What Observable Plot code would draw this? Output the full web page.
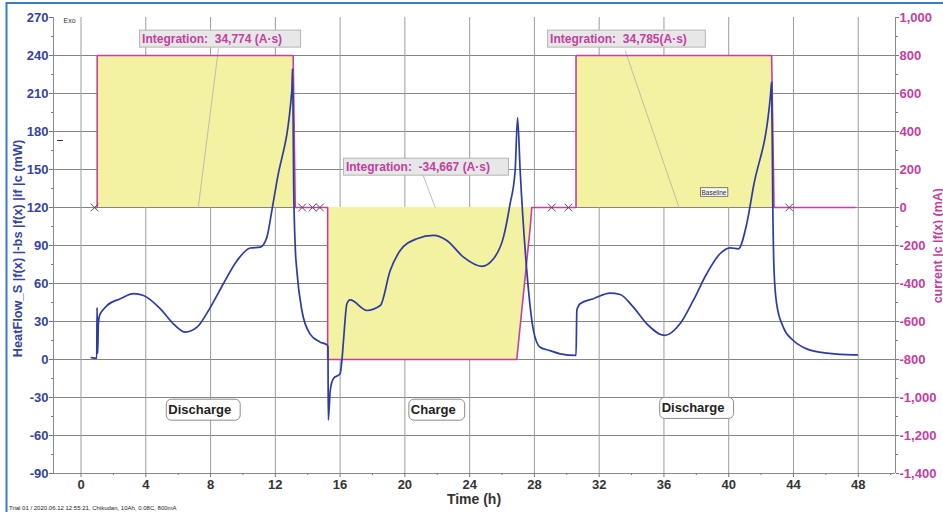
<!DOCTYPE html>
<html><head><meta charset="utf-8">
<script src="https://cdn.jsdelivr.net/npm/d3@7"></script>
<script src="https://cdn.jsdelivr.net/npm/@observablehq/plot@0.6"></script>
<style>
html,body{margin:0;padding:0;background:#fff;}
#chart{position:relative;width:943px;height:512px;overflow:hidden;background:#fff;}
svg{display:block;}
</style></head><body><div id="chart"></div>
<script>
// ---- data ----
const hfTime = [0.64,0.97,0.99,1.01,1.03,1.07,1.15,1.35,1.6,2.43,3.25,3.86,4.9,5.72,6.44,7.16,7.98,8.8,9.63,10.45,11.07,11.48,11.79,12.1,13.02,13.06,13.1,13.13,13.23,13.33,13.64,14.15,14.77,15.19,15.25,
  15.27,15.39,15.59,16.0,16.11,16.21,16.42,16.62,17.65,18.48,19.09,19.71,20.74,21.77,22.59,23.62,24.75,25.47,26.09,26.5,26.81,26.96,27.12,27.53,27.94,28.35,28.97,29.59,30.57,
  30.62,30.82,31.64,32.67,33.29,34.11,34.94,36.05,36.99,37.81,38.64,39.46,40.08,40.59,41.11,41.52,42.59,42.65,42.72,42.8,42.96,43.37,43.99,44.81,46.05,47.69,47.94];
const hfValue = [1.5,1,41,20,5,28,35,39,42.6,48,52,50.5,40,28,21.6,25.5,41,60,78,88,88.7,96.6,118,141,212.5,229.6,190,140,88.7,70,38.7,20,13.7,11.5,10,
  -47.7,-24.5,-15,-11.3,-0.8,15,44,47,38.7,42.6,70,86,95.3,98,94,80.8,73.5,79.5,96.6,123,149,191,149,70,23,9.7,7,4.5,3.2,
  38.7,44,48,52.4,51.3,41.3,28.2,19,28.2,46.6,67.7,83.5,88.2,87.4,107,136,210,219,123,70,44,25.5,15,8.4,5,3.7,3.7];

const curTime  = [0.84,1.0,1.0,13.1,13.23,15.23,15.23,26.91,27.74,27.84,30.57,30.57,42.65,42.8,47.8];
const curValue = [0,0,800,800,0,0,-800,-800,-105,0,0,800,800,0,0];

const integStart = [1.0, 15.23, 30.57];
const integEnd   = [13.23, 27.84, 42.8];

const markTime = [0.84, 13.66, 14.3, 14.75, 29.07, 30.1, 43.74];

const integLabels = ["Integration:\u00a0 34,774 (A·s)", "Integration:\u00a0 -34,667 (A·s)", "Integration:\u00a0 34,785(A·s)"];
const integX = [3.77, 16.36, 28.97];
const integY = [253.2, 152.1, 253.2];
const leaderX1 = [8.49, 21.13, 33.6];
const leaderY1 = [245.6, 145.3, 244];
const leaderX2 = [7.24, 21.87, 36.93];
const leaderY2 = [120, 120, 120];

const phaseLabels = ["Discharge", "Charge", "Discharge"];
const phaseX = [5.39, 20.37, 35.86];
const phaseY = [-39.9, -39.9, -38.5];

const baselineLabel = ["Baseline"];
const baselineX = [39.09];
const baselineY = [131.9];

const xTicks = d3.range(0, 49, 4);
const xMinor = d3.range(2, 51, 4);
const yTicks = d3.range(-90, 271, 30);
const yMinor = d3.range(-75, 270, 30);
const yGrid = d3.range(-60, 241, 30);
const xDomain = [-1.7, 50.3];
const yDomain = [-90, 270];

// ---- helpers ----
const conv = mA => 120 + 0.15 * mA;  // right axis (mA) -> left axis (mW) scale
const hf = hfTime.map((t, i) => ({t, v: hfValue[i]}));
const cur = curTime.map((t, i) => ({t, mA: curValue[i]}));
const fillRows = [];
integStart.forEach((s, k) => cur.forEach(d => { if (d.t >= s && d.t <= integEnd[k]) fillRows.push({...d, seg: k}); }));
const leaders = leaderX1.map((x, i) => ({x1: x, y1: leaderY1[i], x2: leaderX2[i], y2: leaderY2[i]}));

const BLUE = "#2d3ca2", BLUELAB = "#3443a0", MAG = "#c2409f", GRIDH = "#858585", GRIDV = "#9c9c9c";
const FONT = "Liberation Sans, Arial, Helvetica, sans-serif";

const svg = Plot.plot({
  width: 943, height: 512,
  marginTop: 17, marginBottom: 39, marginLeft: 53, marginRight: 48,
  x: {domain: xDomain},
  y: {domain: yDomain},
  style: {fontFamily: FONT, background: "#fff", overflow: "visible"},
  marks: [
    Plot.ruleY(yGrid, {stroke: GRIDH, strokeWidth: 1}),
    Plot.ruleX(xTicks, {stroke: GRIDV, strokeWidth: 1}),
    Plot.areaY(fillRows, {x: "t", y1: d => conv(0), y2: d => conv(d.mA), z: "seg", fill: "#f3f1a2"}),
    Plot.link(leaders, {x1: "x1", y1: "y1", x2: "x2", y2: "y2", stroke: "#b0b0b0", strokeWidth: 0.8}),
    Plot.ruleX([xDomain[0], xDomain[1]], {stroke: "#8a8a8a"}),
    Plot.ruleY([yDomain[0]], {stroke: "#8a8a8a"}),
    Plot.axisY({ticks: yTicks, tickSize: 4, tickPadding: 1, stroke: "#777", fill: BLUELAB, fontSize: 13, fontWeight: "bold", tickFormat: d => String(d), label: null}),
    Plot.axisY({ticks: yMinor, tickSize: 2, stroke: "#777", tickFormat: () => "", label: null}),
    Plot.axisY({anchor: "right", ticks: yTicks, tickSize: 3, tickPadding: 1, stroke: "#777", fill: MAG, fontSize: 13, fontWeight: "bold",
      tickFormat: d => Math.round((d - 120) / 0.15).toLocaleString("en-US"), label: null}),
    Plot.axisY({anchor: "right", ticks: yMinor, tickSize: 2, stroke: "#777", tickFormat: () => "", label: null}),
    Plot.axisX({ticks: xTicks, tickSize: 4, tickPadding: 2, stroke: "#777", fill: "#333", fontSize: 13, fontWeight: "bold", tickFormat: d => String(d), label: null}),
    Plot.axisX({ticks: xMinor, tickSize: 2, stroke: "#777", tickFormat: () => "", label: null}),
    Plot.line(cur, {x: "t", y: d => conv(d.mA), stroke: MAG, strokeWidth: 1.6}),
    Plot.line(hf, {x: "t", y: "v", stroke: BLUE, strokeWidth: 1.7, curve: "monotone-x"}),
    Plot.dot(markTime, {x: d => d, y: d => conv(0), symbol: "times", r: 3.6, stroke: "#555", strokeWidth: 1}),
    Plot.text(integLabels, {x: (d, i) => integX[i], y: (d, i) => integY[i], text: d => d, textAnchor: "start", fill: MAG, fontSize: 12, fontWeight: "bold"}),
    Plot.text(phaseLabels, {x: (d, i) => phaseX[i], y: (d, i) => phaseY[i], text: d => d, textAnchor: "start", fill: "#222", fontSize: 13, fontWeight: "bold"}),
    Plot.text(baselineLabel, {x: (d, i) => baselineX[i], y: (d, i) => baselineY[i], text: d => d, textAnchor: "middle", fill: "#222", fontSize: 6.5})
  ]
});
document.getElementById("chart").append(svg);

const NS = "http://www.w3.org/2000/svg";
function boxes(labels, padL, padR, h, attrs) {
  const sr = svg.getBoundingClientRect();
  const texts = Array.from(svg.querySelectorAll("text")).filter(t => labels.includes(t.textContent));
  texts.forEach(t => {
    const r = t.getBoundingClientRect();
    const cy = (r.top + r.bottom) / 2 - sr.top;
    const rect = document.createElementNS(NS, "rect");
    rect.setAttribute("x", r.left - sr.left - padL);
    rect.setAttribute("y", cy - h / 2);
    rect.setAttribute("width", r.width + padL + padR);
    rect.setAttribute("height", h);
    for (const k in attrs) rect.setAttribute(k, attrs[k]);
    let top = t.parentNode;
    while (top.parentNode !== svg) top = top.parentNode;
    svg.insertBefore(rect, top);
  });
}
boxes(integLabels, 2.5, 18.5, 17, {fill: "#e7e7e7", stroke: "#b4b4b4", "stroke-width": 1});
boxes(phaseLabels, 2, 9, 21, {fill: "#fff", stroke: "#8c8c8c", "stroke-width": 1, rx: 5, ry: 5});
boxes(baselineLabel, 1, 1, 8.5, {fill: "#fff", stroke: "#444", "stroke-width": 0.7});

const s = d3.select(svg);
// axis titles
s.append("text").attr("transform", "translate(22,248.5) rotate(-90)").attr("text-anchor", "middle")
  .attr("font-family", FONT).attr("font-size", 12.8).attr("font-weight", "bold").attr("fill", BLUELAB)
  .text("HeatFlow_S |f(x) |-bs |f(x) |if |c (mW)");
s.append("text").attr("transform", "translate(941.5,188) rotate(-90)").attr("text-anchor", "end")
  .attr("font-family", FONT).attr("font-size", 12.5).attr("font-weight", "bold").attr("fill", MAG)
  .text("current |c |f(x) (mA)");
s.append("text").attr("x", 474).attr("y", 504).attr("text-anchor", "middle")
  .attr("font-family", FONT).attr("font-size", 14).attr("font-weight", "bold").attr("fill", "#333")
  .text("Time (h)");
s.append("text").attr("x", 69.5).attr("y", 23).attr("text-anchor", "middle")
  .attr("font-family", FONT).attr("font-size", 7).attr("fill", "#333").text("Exo");
s.append("line").attr("x1", 57).attr("x2", 63).attr("y1", 140.5).attr("y2", 140.5).attr("stroke", "#333").attr("stroke-width", 1);
s.append("text").attr("x", 9).attr("y", 510).attr("text-anchor", "start")
  .attr("font-family", FONT).attr("font-size", 6).attr("fill", "#222")
  .text("Trial 01 / 2020.06.12 12:55:21, Chikudan, 10Ah, 0.08C, 800mA");
// window frame
s.append("path").attr("d", "M6.5,512V3H943").attr("fill", "none").attr("stroke", "#3a7cc4").attr("stroke-width", 2);
</script>
</body></html>
